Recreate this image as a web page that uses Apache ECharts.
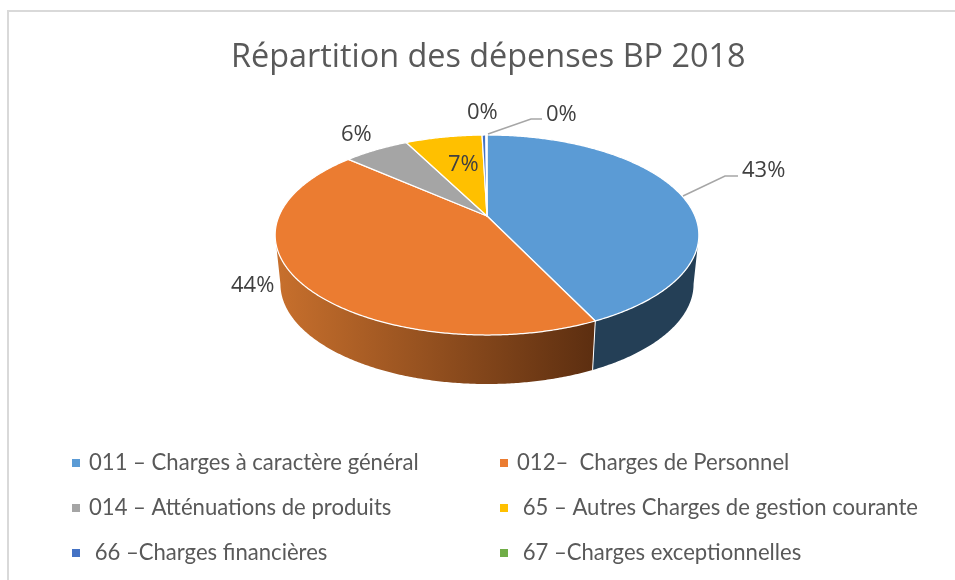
<!DOCTYPE html>
<html>
<head>
<meta charset="utf-8">
<style>html,body{margin:0;padding:0;background:#fff}</style>
<script src="https://cdn.jsdelivr.net/npm/echarts@6/dist/echarts.min.js"></script>
</head>
<body>
<div id="main" style="width:955px;height:580px"></div>
<script>
var categories = [
  '011 – Charges à caractère général',
  '012–  Charges de Personnel',
  '014 – Atténuations de produits',
  ' 65 – Autres Charges de gestion courante',
  ' 66 –Charges financières',
  ' 67 –Charges exceptionnelles'
];
// in percent
var values = [42.9, 43.6, 6.0, 7.05, 0.35, 0.1];
var colors = ['#5B9BD5', '#EB7C31', '#A5A5A5', '#FFC000', '#4472C4', '#70AD47'];

// perspective of the disc
var cx = 487, cy = 216, a = 208, b = 96.4, k = -0.19;
var depth = 49, bottomScale = 0.975;
var total = values.reduce(function (s, v) { return s + v; }, 0);

function project(deg) {
  var t = deg * Math.PI / 180;
  var u = Math.sin(t), v = -Math.cos(t);
  var d = 1 + k * v;
  return [cx + a * u / d, cy + b * v / d];
}
function lower(p) {
  return [cx + (p[0] - cx) * bottomScale, p[1] + depth];
}
function arc(from, to) {
  var pts = [];
  var n = Math.max(1, Math.ceil((to - from) / 0.5));
  for (var i = 0; i <= n; i++) pts.push(project(from + (to - from) * i / n));
  return pts;
}

var wallVisible = [101, 259];
var wallFills = {
  0: '#243F56',
  1: new echarts.graphic.LinearGradient(0, 0, 1, 0, [
    { offset: 0, color: '#C8702D' },
    { offset: 1, color: '#5C2E10' }
  ])
};

function renderSlice(params, api) {
  var idx = params.seriesIndex;
  var before = values.slice(0, idx).reduce(function (s, v) { return s + v; }, 0);
  var start = before / total * 360;
  var end = start + api.value(0) / total * 360;
  var children = [];

  var from = Math.max(start, wallVisible[0]), to = Math.min(end, wallVisible[1]);
  if (to > from) {
    var rim = arc(from, to);
    var wall = rim.concat(rim.slice().reverse().map(lower));
    children.push({
      type: 'polygon',
      shape: { points: wall },
      style: { fill: wallFills[idx] || colors[idx] }
    });
    if (start > wallVisible[0]) {
      children.push({
        type: 'line',
        shape: { x1: rim[0][0], y1: rim[0][1], x2: lower(rim[0])[0], y2: lower(rim[0])[1] },
        style: { stroke: '#fff', lineWidth: 1 }
      });
    }
  }
  children.push({
    type: 'polygon',
    z2: 5,
    shape: { points: [[cx, cy]].concat(arc(start, end)) },
    style: { fill: colors[idx], stroke: '#fff', lineWidth: 1.25, lineJoin: 'round' }
  });
  return { type: 'group', children: children };
}

var series = categories.map(function (name, i) {
  return {
    type: 'custom',
    name: name,
    coordinateSystem: 'none',
    silent: true,
    animation: false,
    itemStyle: { color: colors[i] },
    data: [[values[i]]],
    renderItem: renderSlice
  };
});

var labelFont = { fontFamily: 'Open Sans', fontSize: 22, fill: '#404040' };
function pctText(i) { return Math.round(values[i] / total * 100) + '%'; }
var labelSpots = [[742, 168], [231, 283], [341, 132], [448, 162], [467, 110], [546, 112]];
var graphics = labelSpots.map(function (s, i) {
  return {
    type: 'text', left: s[0], top: s[1] - 8, z: 10, silent: true,
    style: Object.assign({ text: pctText(i) }, labelFont)
  };
});
var leaders = [
  [[683, 196], [725, 176], [738, 176]],
  [[488, 134], [531, 119], [542, 119]]
];
leaders.forEach(function (pts) {
  graphics.push({
    type: 'polyline', z: 10, silent: true,
    shape: { points: pts },
    style: { stroke: '#A6A6A6', lineWidth: 1.5, fill: 'none' }
  });
});
// frame runs off the right and bottom of the picture
graphics.push({
  type: 'rect', z: -1, silent: true,
  shape: { x: 8, y: 11, width: 960, height: 600 },
  style: { fill: '#fff', stroke: '#D9D9D9', lineWidth: 2 }
});

function legendCol(left, names) {
  return {
    left: left, top: 451, orient: 'vertical', itemGap: 21, padding: 0,
    itemWidth: 8, itemHeight: 8, icon: 'rect',
    selectedMode: false, data: names,
    textStyle: { fontFamily: 'Lato', fontSize: 22.1, color: '#595959', padding: [0, 0, 0, 4], lineHeight: 24 }
  };
}

var chart = echarts.init(document.getElementById('main'), null, { renderer: 'canvas' });
chart.setOption({
  backgroundColor: '#fff',
  animation: false,
  title: {
    text: 'Répartition des dépenses BP 2018',
    left: 226, top: 37,
    textStyle: { fontFamily: 'Open Sans', fontSize: 32.4, fontWeight: 'normal', color: '#595959' }
  },
  legend: [
    legendCol(72, [categories[0], categories[2], categories[4]]),
    legendCol(500, [categories[1], categories[3], categories[5]])
  ],
  graphic: graphics,
  series: series
});
</script>
</body>
</html>
